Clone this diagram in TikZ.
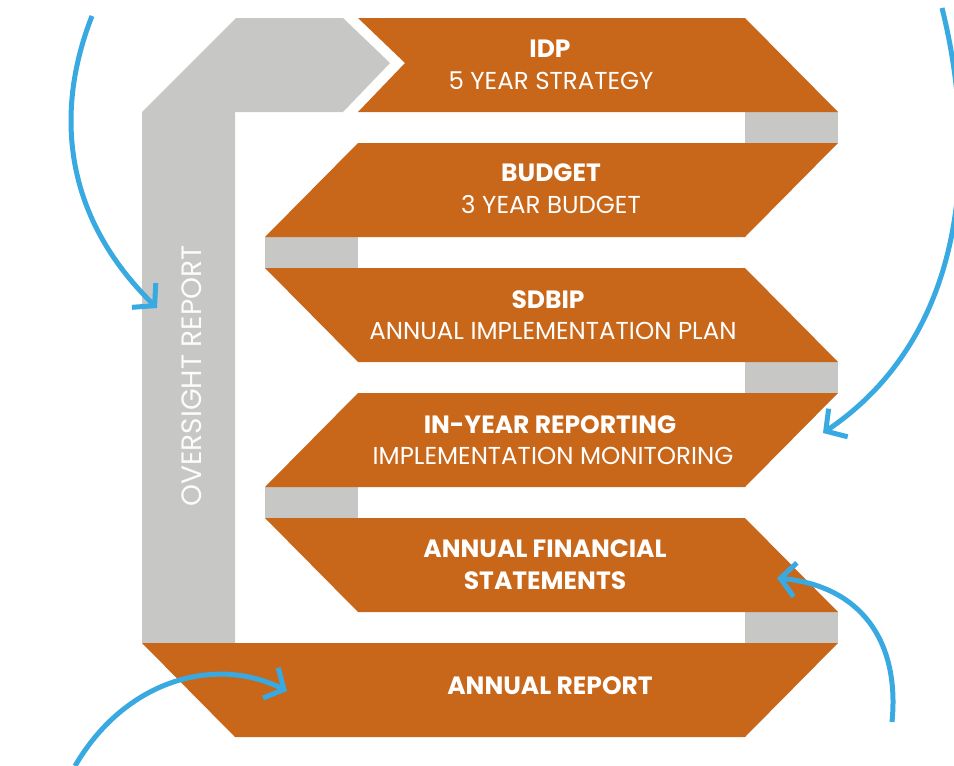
\documentclass[tikz,border=0pt]{standalone}
\usepackage{fontspec}
\setmainfont{Poppins}
\usetikzlibrary{arrows.meta}

\definecolor{bandorange}{RGB}{200,102,25}
\definecolor{linkgray}{RGB}{199,199,197}
\definecolor{cycleblue}{RGB}{57,170,225}

\begin{document}
\begin{tikzpicture}[x=1pt, y=-1pt,
    band/.style={fill=bandorange},
    link/.style={fill=linkgray},
    cyclearrow/.style={draw=cycleblue, line width=5pt,
      -{Straight Barb[length=15pt, width=34pt]}},
    title/.style={text=white, font=\fontsize{25}{32}\selectfont\bfseries},
    sub/.style={text=white, font=\fontsize{24.5}{30}\selectfont}]

  \useasboundingbox (0,0) rectangle (954,766);

  % grey oversight column with its arrow head
  \fill[link] (142,643) -- (142,112) -- (236,18) -- (343,18) -- (390,63)
    -- (343,112) -- (235,112) -- (235,643) -- cycle;

  % grey links between the steps
  \fill[link] (745,112) rectangle (838,143);
  \fill[link] (265,237) rectangle (358,268);
  \fill[link] (745,362) rectangle (838,393);
  \fill[link] (265,487) rectangle (358,518);
  \fill[link] (745,612) rectangle (838,643);

  % the six steps
  \fill[band] (358,18) -- (745,18) -- (838,112) -- (358,112) -- (405,63) -- cycle;
  \fill[band] (358,143) -- (838,143) -- (745,237) -- (265,237) -- cycle;
  \fill[band] (265,268) -- (745,268) -- (838,362) -- (358,362) -- cycle;
  \fill[band] (358,393) -- (838,393) -- (745,487) -- (265,487) -- cycle;
  \fill[band] (265,518) -- (745,518) -- (838,612) -- (358,612) -- cycle;
  \fill[band] (142,643) -- (838,643) -- (745,737) -- (235,737) -- cycle;

  \node[title] (idp) at (550,49) {IDP};
  \node[sub] (idpsub) at (551,81) {5 YEAR STRATEGY};
  \node[title] (budget) at (551,173) {BUDGET};
  \node[sub] (budgetsub) at (551,205) {3 YEAR BUDGET};
  \node[title] (sdbip) at (548,300) {SDBIP};
  \node[sub] (sdbipsub) at (553,331) {ANNUAL IMPLEMENTATION PLAN};
  \node[title] (inyear) at (550,425) {IN-YEAR REPORTING};
  \node[sub] (inyearsub) at (553,456) {IMPLEMENTATION MONITORING};
  \node[title, align=center] (afs) at (545,565) {ANNUAL FINANCIAL\\STATEMENTS};
  \node[title] (report) at (550,686) {ANNUAL REPORT};
  \node[sub, font=\fontsize{28}{30}\selectfont, text=white!95!linkgray, rotate=90]
    (oversight) at (192,376) {OVERSIGHT REPORT};

  % blue cycle arrows
  \coordinate (inS) at (92,16);
  \coordinate (inE) at (157,308);
  \coordinate (rightS) at (942,8);
  \coordinate (rightE) at (823,433);
  \coordinate (afsS) at (892,722);
  \coordinate (afsE) at (777,578);
  \coordinate (repS) at (75,766);
  \coordinate (repE) at (287,691);

  \draw[cyclearrow] (inS) .. controls (55,110) and (62,215) .. (inE);
  \draw[cyclearrow] (rightS) .. controls (975,140) and (975,330) .. (rightE);
  \draw[cyclearrow] (afsS) .. controls (900,640) and (860,586) .. (afsE);
  \draw[cyclearrow] (repS) .. controls (125,680) and (215,655) .. (repE);
\end{tikzpicture}
\end{document}
